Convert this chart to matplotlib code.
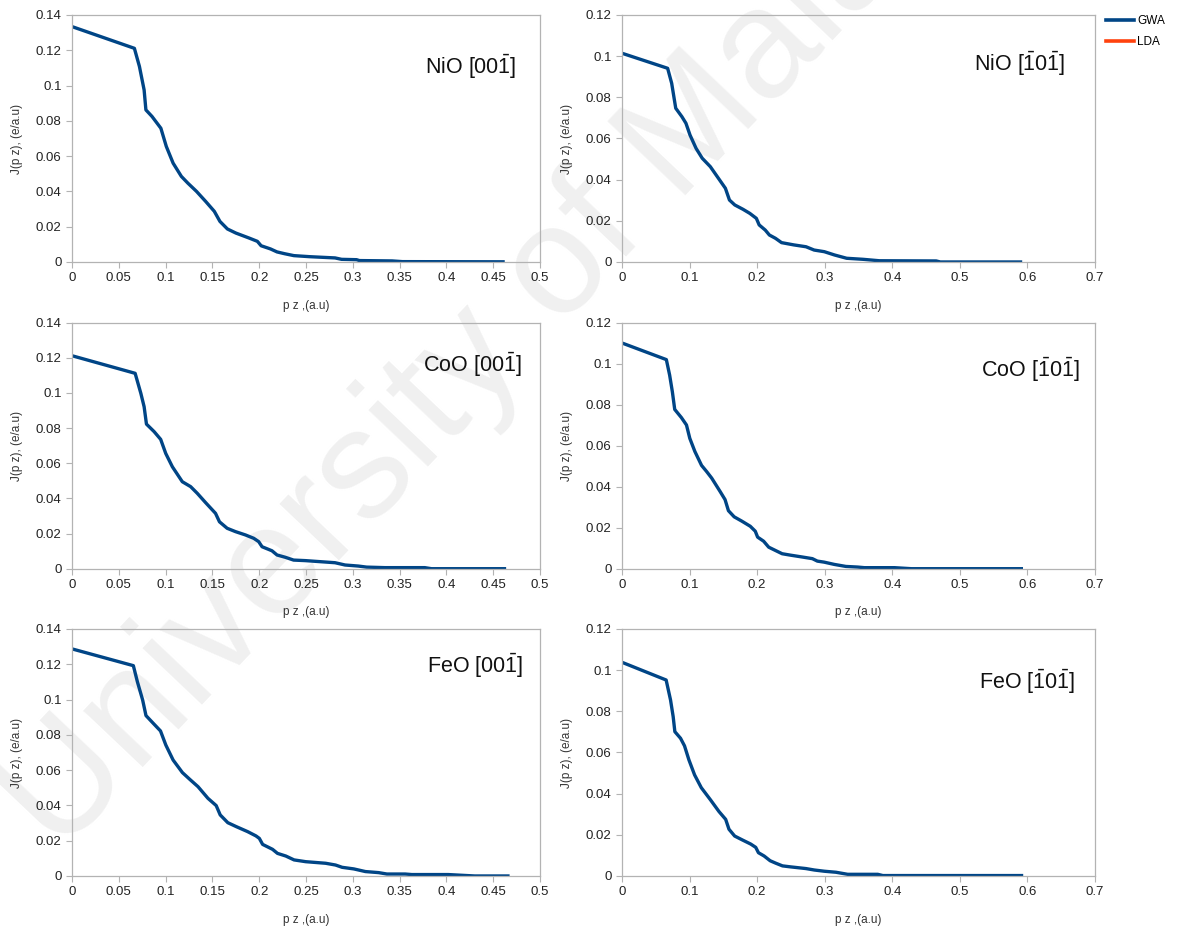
import matplotlib
matplotlib.use("Agg")
import matplotlib.pyplot as plt
from matplotlib.lines import Line2D

plt.rcParams['font.family'] = ['Liberation Sans', 'DejaVu Sans']
plt.rcParams['mathtext.fontset'] = 'custom'
plt.rcParams['mathtext.rm'] = 'Liberation Sans'
plt.rcParams['mathtext.it'] = 'Liberation Sans:italic'

# --- data (pz in a.u., J(pz) in e/a.u) ---
nio_001_pz = [0, 0.0666, 0.072, 0.077, 0.0789, 0.0854, 0.0949, 0.1007, 0.108, 0.1168, 0.1237, 0.133,
              0.1428, 0.152, 0.158, 0.166, 0.175, 0.189, 0.198, 0.202, 0.212, 0.219, 0.227, 0.237,
              0.254, 0.281, 0.288, 0.304, 0.307, 0.342, 0.353, 0.4605]
nio_001_j = [0.1334, 0.1211, 0.1108, 0.0975, 0.0862, 0.0825, 0.0758, 0.0655, 0.056, 0.0485, 0.0447, 0.040,
             0.0343, 0.0287, 0.023, 0.0187, 0.0164, 0.0136, 0.0117, 0.0092, 0.0074, 0.0057, 0.0047, 0.0036,
             0.003, 0.0023, 0.0015, 0.0013, 0.0008, 0.0006, 0.0002, 0.0001]

nio_101_pz = [0, 0.0675, 0.0735, 0.0795, 0.0886, 0.0946, 0.1006, 0.1096, 0.1187, 0.1307, 0.1428, 0.153,
              0.159, 0.1669, 0.179, 0.1892, 0.1988, 0.203, 0.212, 0.2181, 0.2271, 0.2361, 0.2542, 0.2723,
              0.2843, 0.2994, 0.3145, 0.3325, 0.3566, 0.3807, 0.465, 0.4711, 0.5898]
nio_101_j = [0.1014, 0.0941, 0.0868, 0.0747, 0.0706, 0.0674, 0.0617, 0.0552, 0.0504, 0.0463, 0.0406, 0.0358,
             0.0301, 0.0277, 0.0256, 0.0236, 0.0212, 0.018, 0.0155, 0.0131, 0.0115, 0.0094, 0.0083, 0.0074,
             0.0058, 0.005, 0.0034, 0.0018, 0.0013, 0.0006, 0.0005, 0.0, 0.0]

coo_001_pz = [0, 0.0674, 0.0735, 0.077, 0.0795, 0.0877, 0.0947, 0.1001, 0.1072, 0.1178, 0.1267, 0.1338,
              0.1427, 0.1533, 0.1575, 0.1657, 0.1746, 0.1853, 0.1941, 0.1994, 0.203, 0.2136, 0.219, 0.2278,
              0.2367, 0.2491, 0.2704, 0.281, 0.2917, 0.3059, 0.3147, 0.3343, 0.3769, 0.384, 0.462]
coo_001_j = [0.1212, 0.1112, 0.0998, 0.0922, 0.0823, 0.078, 0.0736, 0.0656, 0.058, 0.0495, 0.0467, 0.0429,
             0.0376, 0.0315, 0.0267, 0.023, 0.0211, 0.0192, 0.0173, 0.0154, 0.0125, 0.0102, 0.0078, 0.0065,
             0.0049, 0.0046, 0.0038, 0.0034, 0.0021, 0.0015, 0.0009, 0.0006, 0.0006, 0.0, 0.0]

coo_101_pz = [0, 0.0656, 0.0705, 0.0745, 0.078, 0.0879, 0.0954, 0.1003, 0.1078, 0.1177, 0.1252, 0.1327,
              0.1451, 0.1525, 0.1575, 0.166, 0.1773, 0.1898, 0.1972, 0.2007, 0.2096, 0.2171, 0.227, 0.237,
              0.2494, 0.2668, 0.2817, 0.2891, 0.2991, 0.314, 0.3313, 0.3487, 0.3587, 0.4034, 0.4282, 0.591]
coo_101_j = [0.1101, 0.102, 0.0944, 0.0863, 0.0777, 0.0737, 0.0701, 0.0636, 0.0572, 0.0504, 0.0474, 0.0442,
             0.0377, 0.0337, 0.0283, 0.0253, 0.0232, 0.0207, 0.0183, 0.0154, 0.0134, 0.0105, 0.0089, 0.0073,
             0.0066, 0.0057, 0.0049, 0.0037, 0.0032, 0.0021, 0.0011, 0.0008, 0.0005, 0.0005, 0.0, 0.0]

feo_001_pz = [0, 0.0655, 0.0698, 0.0754, 0.079, 0.0868, 0.0945, 0.1002, 0.108, 0.1179, 0.1257, 0.1346,
              0.1452, 0.154, 0.1583, 0.1664, 0.1753, 0.1877, 0.1965, 0.2001, 0.2036, 0.2142, 0.2195, 0.2284,
              0.2372, 0.2496, 0.2709, 0.2815, 0.2886, 0.301, 0.3134, 0.3275, 0.3364, 0.3559, 0.363, 0.4019,
              0.4302, 0.4657]
feo_001_j = [0.1287, 0.1192, 0.1101, 0.0998, 0.0909, 0.0865, 0.0822, 0.0742, 0.0657, 0.0586, 0.0548, 0.0506,
             0.044, 0.0399, 0.0346, 0.0302, 0.028, 0.0251, 0.0227, 0.0213, 0.0179, 0.0151, 0.0128, 0.0113,
             0.0091, 0.0081, 0.0072, 0.0062, 0.0049, 0.004, 0.0025, 0.0019, 0.0011, 0.0011, 0.0008, 0.0008,
             0.0, 0.0]

feo_101_pz = [0, 0.0653, 0.0718, 0.0757, 0.0782, 0.0866, 0.0925, 0.099, 0.1074, 0.1173, 0.1311, 0.1435,
              0.1534, 0.1583, 0.1667, 0.1781, 0.1905, 0.1979, 0.2019, 0.2103, 0.2192, 0.2276, 0.2375, 0.2499,
              0.2721, 0.2845, 0.2994, 0.3167, 0.334, 0.3785, 0.386, 0.5913]
feo_101_j = [0.1038, 0.0952, 0.0855, 0.0774, 0.0701, 0.0669, 0.0632, 0.0564, 0.0491, 0.0429, 0.0369, 0.0313,
             0.0275, 0.0227, 0.0194, 0.0175, 0.0155, 0.0139, 0.0113, 0.0097, 0.0074, 0.0062, 0.0049, 0.0044,
             0.0036, 0.0029, 0.0023, 0.0018, 0.0008, 0.0008, 0.0002, 0.0002]

titles = [r'NiO [00$\bar{\mathrm{1}}$]', r'NiO [$\bar{\mathrm{1}}$0$\bar{\mathrm{1}}$]',
          r'CoO [00$\bar{\mathrm{1}}$]', r'CoO [$\bar{\mathrm{1}}$0$\bar{\mathrm{1}}$]',
          r'FeO [00$\bar{\mathrm{1}}$]', r'FeO [$\bar{\mathrm{1}}$0$\bar{\mathrm{1}}$]']
series = [(nio_001_pz, nio_001_j), (nio_101_pz, nio_101_j),
          (coo_001_pz, coo_001_j), (coo_101_pz, coo_101_j),
          (feo_001_pz, feo_001_j), (feo_101_pz, feo_101_j)]
x_ticks_001 = [0, 0.05, 0.1, 0.15, 0.2, 0.25, 0.3, 0.35, 0.4, 0.45, 0.5]
x_ticks_101 = [0, 0.1, 0.2, 0.3, 0.4, 0.5, 0.6, 0.7]
y_ticks_001 = [0, 0.02, 0.04, 0.06, 0.08, 0.1, 0.12, 0.14]
y_ticks_101 = [0, 0.02, 0.04, 0.06, 0.08, 0.1, 0.12]

GWA_COLOR = '#004586'
LDA_COLOR = '#ff420e'
FRAME = '#b3b3b3'

fig = plt.figure(figsize=(11.83, 9.30), dpi=100)

# watermark, sits behind the transparent axes
fig.text(0.05, 0.08, 'University of Malaya', fontsize=112, color='#f0f0f0',
         rotation=46.5, rotation_mode='anchor', ha='left', va='baseline', zorder=-1)

col_left = [0.0609, 0.5258]
col_width = [0.3956, 0.3998]
row_bottom = [0.7183, 0.3885, 0.0581]
row_height = [0.2656, 0.2645, 0.2656]
label_pos = [(0.95, 0.79), (0.937, 0.80), (0.96, 0.83), (0.968, 0.81), (0.964, 0.85), (0.958, 0.785)]

for i, (title, (pz, j)) in enumerate(zip(titles, series)):
    r, c = divmod(i, 2)
    ax = fig.add_axes([col_left[c], row_bottom[r], col_width[c], row_height[r]])
    ax.set_facecolor('none')
    ax.plot(pz, j, color=GWA_COLOR, lw=2.4, solid_joinstyle='round')
    if c == 0:
        ax.set_xlim(0, 0.5)
        ax.set_ylim(0, 0.14)
        ax.set_xticks(x_ticks_001)
        ax.set_yticks(y_ticks_001)
    else:
        ax.set_xlim(0, 0.7)
        ax.set_ylim(0, 0.12)
        ax.set_xticks(x_ticks_101)
        ax.set_yticks(y_ticks_101)
    ax.set_xticklabels([f'{v:g}' for v in ax.get_xticks()])
    ax.set_yticklabels([f'{v:g}' for v in ax.get_yticks()])
    for s in ax.spines.values():
        s.set_color(FRAME)
        s.set_linewidth(0.9)
    ax.tick_params(axis='both', colors=FRAME, labelcolor='#222222', labelsize=9.5, length=4, width=0.8)
    ax.set_xlabel('p z ,(a.u)', fontsize=8.5, color='#333333', labelpad=11)
    ax.set_ylabel('J(p z), (e/a.u)', fontsize=8.5, color='#333333', labelpad=9)
    ax.text(label_pos[i][0], label_pos[i][1], title, transform=ax.transAxes,
            ha='right', va='center', fontsize=15.5, color='#111111')

handles = [Line2D([], [], color=GWA_COLOR, lw=2.6), Line2D([], [], color=LDA_COLOR, lw=2.6)]
fig.legend(handles, ['GWA', 'LDA'], loc='upper left', bbox_to_anchor=(0.926, 0.995),
           frameon=False, fontsize=8.5, handlelength=2.4, handletextpad=0.25, labelspacing=0.75)

fig.savefig('out.png', dpi=100)
